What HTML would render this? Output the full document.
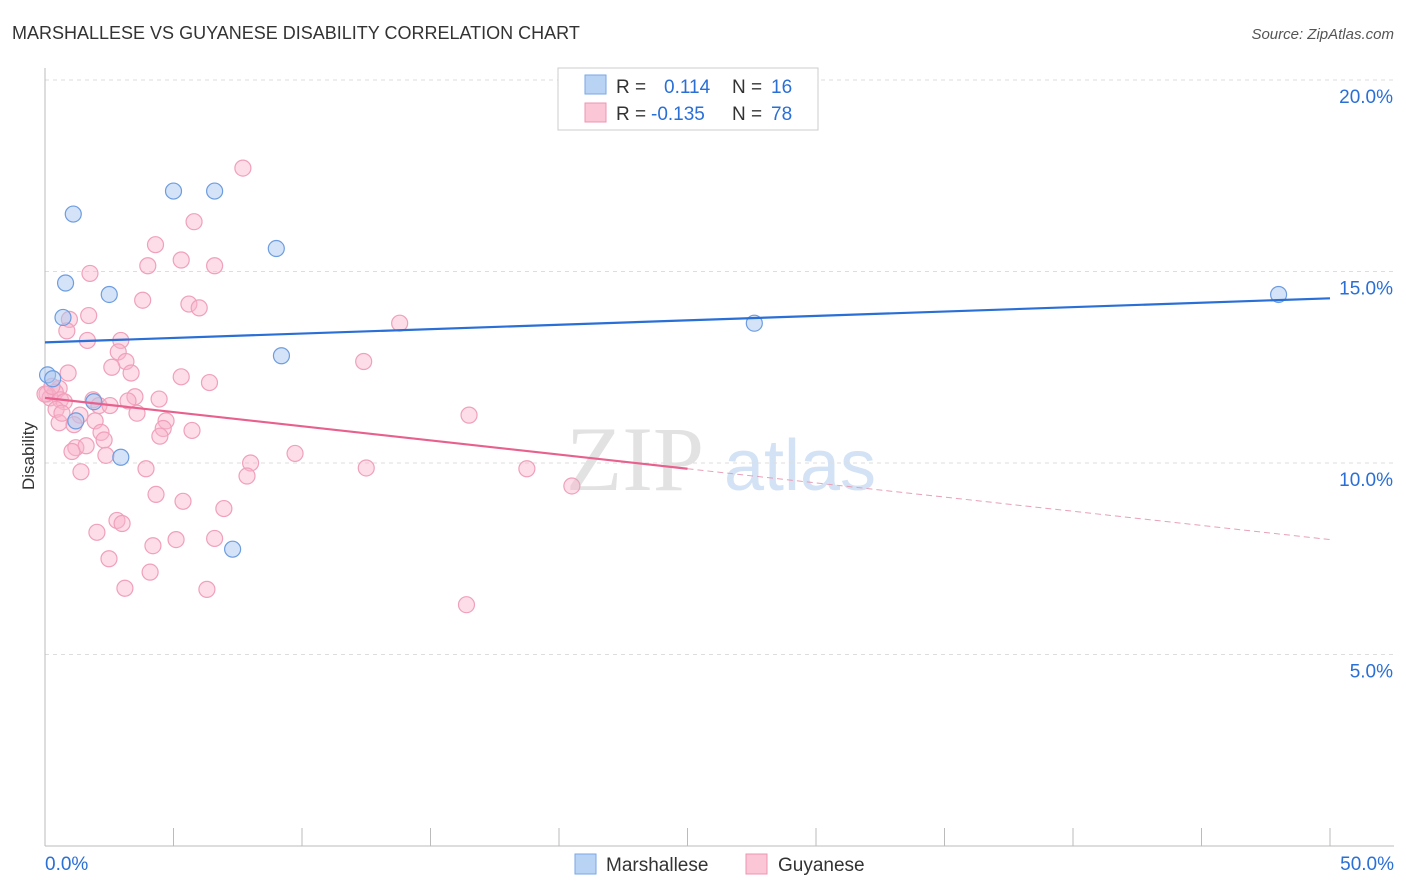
<!DOCTYPE html>
<html><head><meta charset="utf-8"><style>
body{margin:0;background:#fff;font-family:"Liberation Sans",sans-serif;}
svg{display:block}
</style></head><body>
<svg id="chart" width="1406" height="892">
<text x="12" y="39" font-size="18" fill="#333">MARSHALLESE VS GUYANESE DISABILITY CORRELATION CHART</text>
<text x="1394" y="39" font-size="15" fill="#555" font-style="italic" text-anchor="end">Source: ZipAtlas.com</text>
<text x="635" y="490" font-size="92" fill="#e2e2e2" font-family="Liberation Serif,serif" text-anchor="middle">ZIP</text>
<text x="800" y="490" font-size="72" fill="#d3e2f5" text-anchor="middle">atlas</text>
<g id="grid"></g><g id="axes"></g><g id="marks"></g>
<text transform="translate(34,456) rotate(-90)" font-size="17" fill="#333" text-anchor="middle">Disability</text>
<g>
<rect x="558" y="68" width="260" height="62" fill="#fff" stroke="#ccc"/>
<rect x="585" y="75" width="21" height="19" fill="#b9d3f5" stroke="#7aa6e6"/>
<rect x="585" y="103" width="21" height="19" fill="#fbc6d6" stroke="#ee94b0"/>
<text x="616" y="93" font-size="19" fill="#333">R = <tspan fill="#2a6fd6" x="664">0.114</tspan><tspan fill="#333" x="732">N = </tspan><tspan fill="#2a6fd6" x="771">16</tspan></text>
<text x="616" y="120" font-size="19" fill="#333">R = <tspan fill="#2a6fd6" x="651">-0.135</tspan><tspan fill="#333" x="732">N = </tspan><tspan fill="#2a6fd6" x="771">78</tspan></text>
</g>
<g>
<rect x="575" y="854" width="21" height="20" fill="#b9d3f5" stroke="#7aa6e6"/>
<text x="606" y="871" font-size="19" fill="#333">Marshallese</text>
<rect x="746" y="854" width="21" height="20" fill="#fbc6d6" stroke="#ee94b0"/>
<text x="778" y="871" font-size="19" fill="#333">Guyanese</text>
</g>
</svg>
<script>
const yTicks=[5,10,15,20];
const yTickLabels=["5.0%","10.0%","15.0%","20.0%"];
const xTickLabels=["0.0%","50.0%"];
const blueX=[1.1,5.0,6.6,9.0,0.8,2.5,0.7,9.2,0.1,1.9,1.2,2.95,7.3,27.6,48.0,0.3];
const blueY=[16.5,17.1,17.1,15.6,14.7,14.4,13.8,12.8,12.3,11.6,11.1,10.15,7.75,13.65,14.4,12.2];
const pinkX=[7.7,5.8,4.3,5.3,4.0,6.6,1.75,3.8,5.6,6.0,1.7,0.95,13.8,0.85,1.65,2.95,2.85,3.15,12.4,2.6,3.35,0.9,5.3,6.4,0.55,0.4,0.08,0.2,0.6,0.75,1.87,3.5,3.23,4.44,2.1,2.53,0.43,3.58,1.36,16.5,4.71,1.95,0.55,1.13,4.6,5.72,2.18,4.47,2.3,1.2,1.6,1.05,9.73,2.37,8.0,12.5,3.93,18.75,1.4,7.86,4.32,5.37,6.96,2.8,3.0,2.02,5.1,6.6,4.2,2.49,4.09,3.11,6.3,16.4,20.5,0.0,0.27,0.66];
const pinkY=[17.7,16.3,15.7,15.3,15.15,15.15,14.95,14.25,14.15,14.05,13.85,13.75,13.65,13.45,13.2,13.2,12.9,12.65,12.65,12.5,12.35,12.35,12.25,12.1,11.95,11.85,11.8,11.7,11.65,11.6,11.65,11.73,11.62,11.67,11.5,11.5,11.4,11.3,11.25,11.25,11.1,11.1,11.05,11.0,10.9,10.85,10.8,10.7,10.6,10.4,10.45,10.3,10.25,10.2,10.0,9.87,9.85,9.85,9.77,9.66,9.18,9.0,8.81,8.5,8.42,8.19,8.0,8.03,7.84,7.5,7.15,6.73,6.7,6.3,9.4,11.8,12.0,11.3];
const blueFit=[13.15,14.3];
const pinkFit=[11.7,9.85,8.0];
const x=v=>45+v/50*1285;
const y=v=>846-v/5*191.5;
const NS="http://www.w3.org/2000/svg";
function mk(parent,tag,attrs){const e=document.createElementNS(NS,tag);for(const k in attrs)e.setAttribute(k,attrs[k]);document.getElementById(parent).appendChild(e);return e;}
yTicks.forEach((t,i)=>{
 const l=mk('grid','line',{x1:45,x2:1394,y1:y(t),y2:y(t),stroke:'#ddd','stroke-dasharray':'4,4'});
 
 
 const tx=mk('axes','text',{x:1393,y:y(t)+23,'font-size':19,fill:'#2a6fd6','text-anchor':'end'});
 tx.textContent=yTickLabels[i];
 
 
});
const ya=mk('axes','line',{x1:45,x2:45,y1:68,y2:846,stroke:'#bbb'});


const xa=mk('axes','line',{x1:45,x2:1394,y1:846,y2:846,stroke:'#bbb'});


for(let i=0;i<=10;i++){const t=mk('axes','line',{x1:x(i*5),x2:x(i*5),y1:828,y2:846,stroke:'#bbb'});

}
[[0,'start',45],[1,'end',1394]].forEach(([i,a,px])=>{const t=mk('axes','text',{x:px,y:870,'font-size':19,fill:'#2a6fd6','text-anchor':a});t.textContent=xTickLabels[i];

});
pinkX.forEach((v,i)=>{const c=mk('marks','circle',{cx:x(v),cy:y(pinkY[i]),r:8,fill:'rgba(248,180,203,0.45)',stroke:'#f0a0bb','stroke-width':1.2});

});
blueX.forEach((v,i)=>{const c=mk('marks','circle',{cx:x(v),cy:y(blueY[i]),r:8,fill:'rgba(170,200,240,0.5)',stroke:'#6d9de0','stroke-width':1.2});

});
const bl=mk('marks','line',{x1:x(0),y1:y(blueFit[0]),x2:x(50),y2:y(blueFit[1]),stroke:'#2a6fd6','stroke-width':2.2});


const pl=mk('marks','line',{x1:x(0),y1:y(pinkFit[0]),x2:x(25),y2:y(pinkFit[1]),stroke:'#e8608e','stroke-width':2.2});


const pd=mk('marks','line',{x1:x(25),y1:y(pinkFit[1]),x2:x(50),y2:y(pinkFit[2]),stroke:'#e8a0b8','stroke-width':1,'stroke-dasharray':'6,4'});


</script>
</body></html>
